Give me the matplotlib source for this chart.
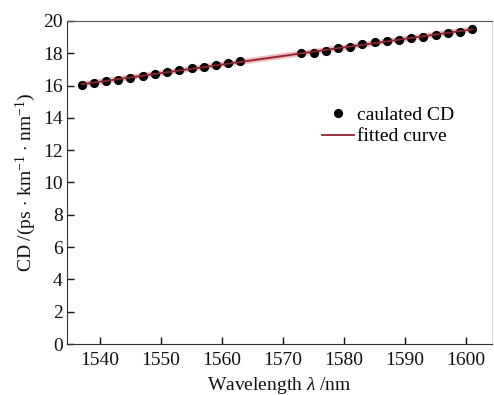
import numpy as np
import matplotlib
matplotlib.use('Agg')
import matplotlib.pyplot as plt

plt.rcParams['font.family'] = ['Liberation Serif', 'DejaVu Serif']
plt.rcParams['mathtext.fontset'] = 'custom'
plt.rcParams['mathtext.rm'] = 'Liberation Serif'
plt.rcParams['mathtext.it'] = 'Liberation Serif:italic'

# Data
wavelength = [1537, 1539, 1541, 1543, 1545, 1547, 1549, 1551, 1553, 1555, 1557, 1559, 1561, 1563,
              1573, 1575, 1577, 1579, 1581, 1583, 1585, 1587, 1589, 1591, 1593, 1595, 1597, 1599, 1601]
cd = [16.06, 16.14, 16.28, 16.35, 16.45, 16.59, 16.72, 16.86, 16.97, 17.07, 17.17, 17.28, 17.42, 17.55,
      18.00, 18.04, 18.12, 18.31, 18.41, 18.60, 18.68, 18.76, 18.80, 18.93, 19.03, 19.13, 19.24, 19.34, 19.50]
x_ticks = [1540, 1550, 1560, 1570, 1580, 1590, 1600]
y_ticks = [0, 2, 4, 6, 8, 10, 12, 14, 16, 18, 20]

# Linear fit
coef = np.polyfit(wavelength, cd, 1)
xfit = np.array([wavelength[0], wavelength[-1]])
yfit = np.polyval(coef, xfit)

fig = plt.figure(figsize=(4.94, 3.95), dpi=100)
ax = fig.add_axes([0.1356, 0.129, 0.860, 0.818])

ax.plot(wavelength, cd, 'o', color='black', markersize=5.6, zorder=3, label='caulated CD')
ax.plot(xfit, yfit, color='#f2b8b8', linewidth=4, zorder=2)
ax.plot(xfit, yfit, color='#8b2630', linewidth=1.3, zorder=4, label='fitted curve')

ax.set_xlim(1534.6, 1604.2)
ax.set_ylim(0, 20)
ax.set_xticks(x_ticks)
ax.set_yticks(y_ticks)
ax.tick_params(direction='in', length=5, width=1, labelsize=14, colors='#111111')
ax.tick_params(axis='x', pad=6)
ax.tick_params(axis='y', pad=3)

ax.spines['left'].set_color('#333333')
ax.spines['bottom'].set_color('#333333')
ax.spines['top'].set_color('#555555')
ax.spines['right'].set_color('#dddddd')

ax.set_xlabel(r'Wavelength $\mathit{\lambda}$ /nm', fontsize=14, labelpad=4, color='#111111')
ax.set_ylabel(r'CD /(ps $\cdot$ km$^{-1}$ $\cdot$ nm$^{-1}$)', fontsize=14, labelpad=4, color='#111111')

ax.legend(loc='upper left', bbox_to_anchor=(0.56, 0.79), frameon=False, fontsize=14,
          handlelength=1.6, handletextpad=0.2, labelspacing=0.2)

plt.savefig('out.png', dpi=100)
